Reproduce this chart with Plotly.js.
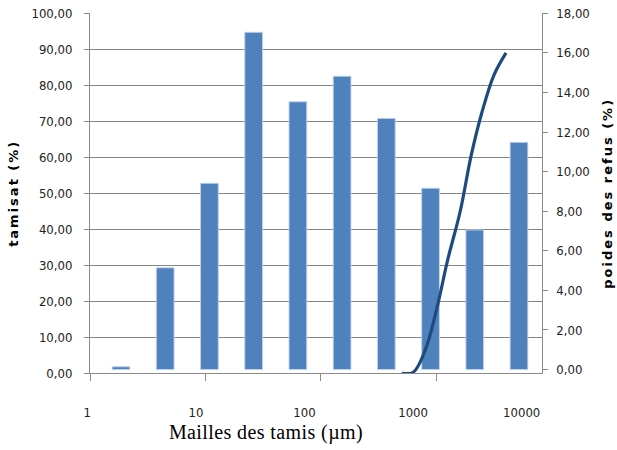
<!DOCTYPE html>
<html>
<head>
<meta charset="utf-8">
<script src="https://cdn.plot.ly/plotly-3.0.1.min.js"></script>
<style>
  html, body { margin: 0; padding: 0; background: #fff; }
  #chart { width: 617px; height: 450px; }
  text.ytitle, text.y2title { letter-spacing: 2px; }
  text.x3title { letter-spacing: 0.4px; }
</style>
</head>
<body>
<div id="chart"></div>
<script>
// Bars: poids des refus (%) per sieve class (right axis)
const barClasses = [1, 2, 3, 4, 5, 6, 7, 8, 9, 10];
const poidsRefus = [0.14, 5.14, 9.41, 17.04, 13.53, 14.82, 12.69, 9.16, 7.05, 11.48];

// Curve: tamisat (%) vs sieve mesh (µm), left axis, log x
const mailles = [500, 630, 800, 1000, 1250, 1600, 2000, 2500, 3150, 4000];
const tamisat = [0, 0.3, 6.5, 17.6, 31.5, 44.8, 60.6, 73, 82.9, 89];

// Tick labels
const xTickVals = [1, 10, 100, 1000, 10000];
const xTickText = ["1", "10", "100", "1000", "10000"];
const leftTicks = [0, 10, 20, 30, 40, 50, 60, 70, 80, 90, 100];
const rightTicks = [0, 2, 4, 6, 8, 10, 12, 14, 16, 18];

const W = 617, H = 450;
const px = v => v / W;
const py = v => (H - v) / H;

const tickFont = { family: '"DejaVu Sans Condensed", "DejaVu Sans", sans-serif', size: 13, color: '#222222' };
const titleFont = { family: '"DejaVu Sans", sans-serif', size: 13, color: '#000000', weight: 'bold' };
const gridCol = '#858585';
const axisCol = '#8a8a8a';

const plotX = [px(90), px(541.7)];
const plotY = [py(373.3), py(13.3)];

const traces = [
  {
    type: 'bar',
    x: barClasses,
    y: poidsRefus,
    xaxis: 'x', yaxis: 'y',
    width: 0.4,
    marker: { color: '#4F81BD', line: { color: 'rgba(190,210,235,0.9)', width: 1 } },
    hoverinfo: 'skip'
  },
  {
    type: 'scatter',
    mode: 'lines',
    x: mailles,
    y: tamisat,
    xaxis: 'x2', yaxis: 'y2',
    line: { color: '#1F4A80', width: 3.2, shape: 'spline', smoothing: 1 },
    hoverinfo: 'skip'
  },
  {
    // invisible helper so the label-only axis gets drawn
    type: 'scatter',
    mode: 'none',
    x: xTickVals,
    y: xTickVals.map(() => 0.5),
    xaxis: 'x3', yaxis: 'y3',
    hoverinfo: 'skip'
  }
];

const layout = {
  width: W, height: H,
  margin: { l: 0, r: 0, t: 0, b: 0, pad: 0 },
  paper_bgcolor: '#ffffff',
  plot_bgcolor: 'rgba(0,0,0,0)',
  showlegend: false,
  separators: ', ',
  bargap: 0,
  xaxis: {
    domain: plotX,
    range: [0.299, 10.514],
    visible: false,
    fixedrange: true
  },
  yaxis: {
    domain: plotY,
    anchor: 'x',
    side: 'right',
    range: [-0.19, 18],
    tickmode: 'array',
    tickvals: rightTicks,
    tickformat: '.2f',
    showgrid: false,
    zeroline: false,
    showline: true,
    linecolor: axisCol,
    linewidth: 1,
    ticks: 'outside',
    ticklen: 5,
    tickcolor: axisCol,
    tickfont: tickFont,
    ticklabelstandoff: 6,
    title: { text: 'poides des refus (%)', font: titleFont, standoff: 14 }
  },
  xaxis2: {
    type: 'log',
    overlaying: 'x',
    anchor: 'y2',
    range: [0, 3.911],
    tickmode: 'array',
    tickvals: xTickVals,
    showticklabels: false,
    showgrid: false,
    zeroline: false,
    showline: true,
    linecolor: axisCol,
    linewidth: 1,
    ticks: 'outside',
    ticklen: 7,
    tickcolor: axisCol
  },
  yaxis2: {
    overlaying: 'y',
    anchor: 'x2',
    side: 'left',
    range: [0, 100],
    tickmode: 'array',
    tickvals: leftTicks,
    tickformat: '.2f',
    showgrid: true,
    gridcolor: gridCol,
    gridwidth: 1.4,
    zeroline: false,
    showline: true,
    linecolor: axisCol,
    linewidth: 1,
    ticks: 'outside',
    ticklen: 5,
    tickcolor: axisCol,
    tickfont: tickFont,
    ticklabelstandoff: 9,
    title: { text: 'tamisat (%)', font: titleFont, standoff: 9 }
  },
  xaxis3: {
    type: 'log',
    domain: [px(9), px(523)],
    anchor: 'y3',
    range: [-0.721, 4.012],
    tickmode: 'array',
    tickvals: xTickVals,
    ticktext: xTickText,
    ticks: '',
    showline: false,
    showgrid: false,
    zeroline: false,
    tickfont: tickFont,
    ticklabelstandoff: 30,
    title: { text: 'Mailles des tamis (µm)', font: { family: '"Liberation Serif", "Times New Roman", serif', size: 20, color: '#000000' }, standoff: 5 }
  },
  yaxis3: {
    domain: plotY,
    anchor: 'x3',
    range: [0, 1],
    visible: false,
    showgrid: false
  }
};

Plotly.newPlot('chart', traces, layout, { staticPlot: true, displayModeBar: false });
</script>
</body>
</html>
